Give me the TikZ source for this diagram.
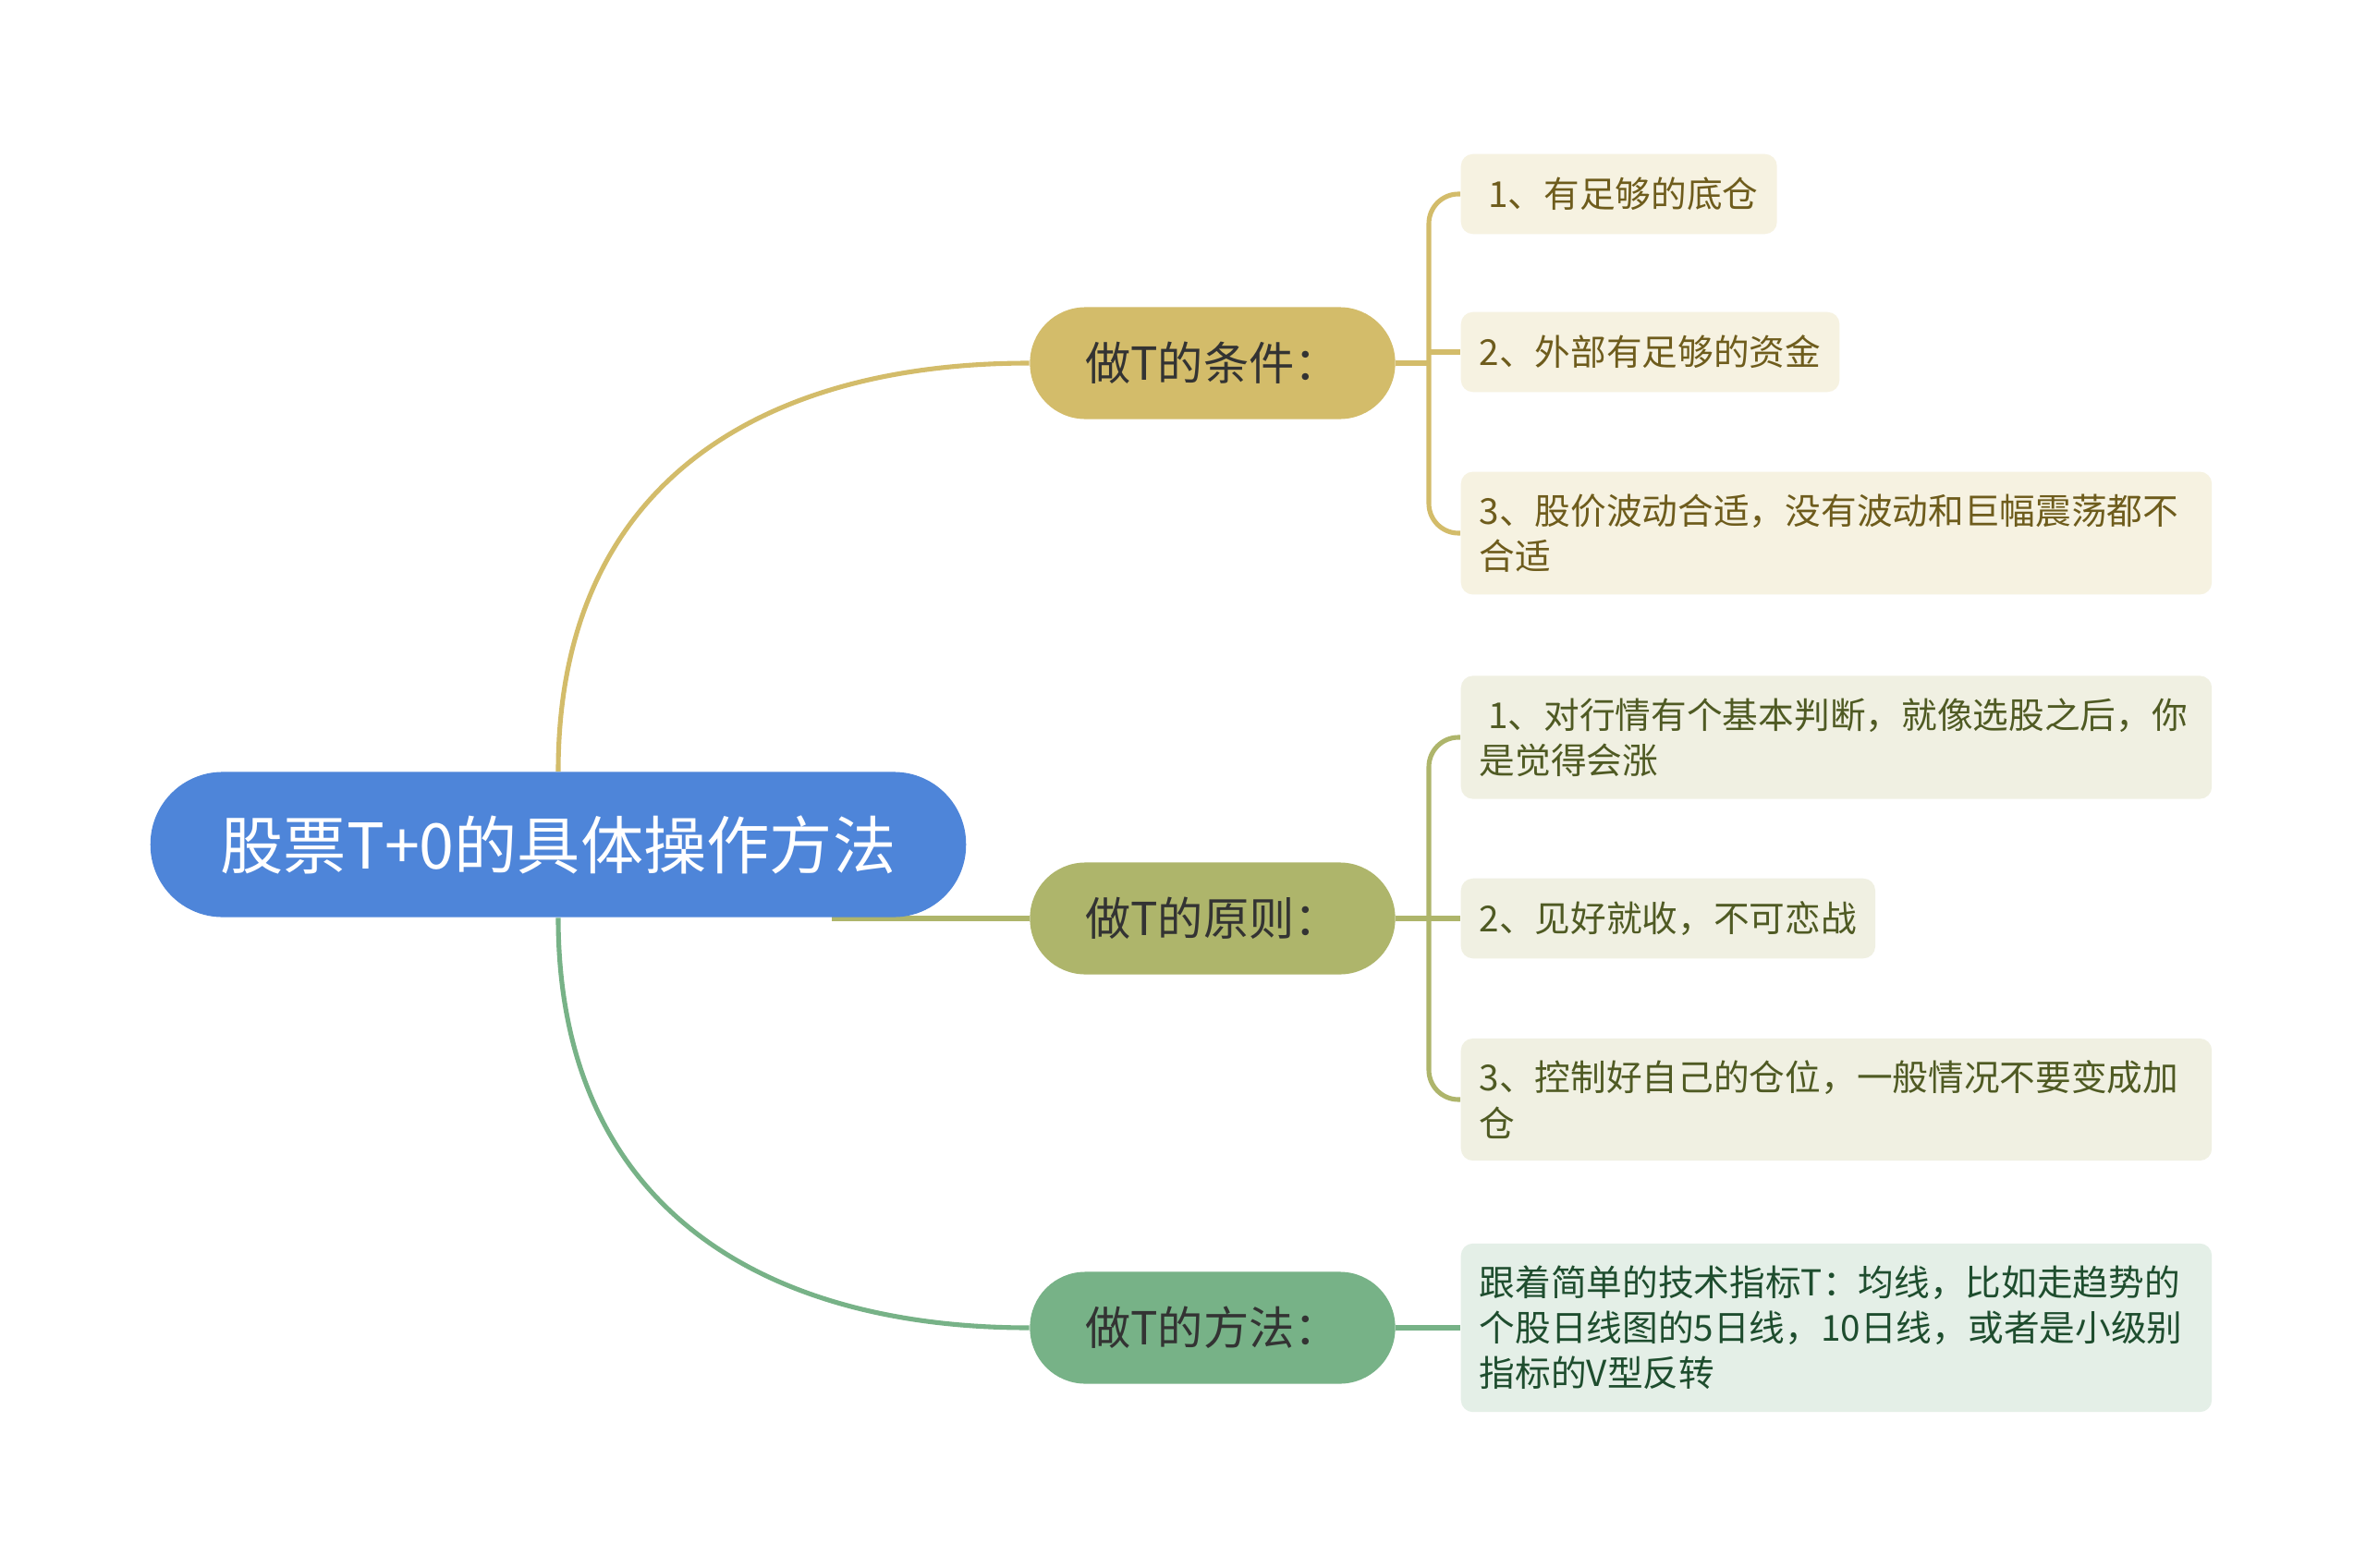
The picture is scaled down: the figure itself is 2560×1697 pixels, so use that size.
\documentclass[tikz,border=0pt]{standalone}
\usepackage{fontspec}
\setmainfont{Noto Sans CJK SC}
\usepackage{tikz}
\usetikzlibrary{backgrounds}

\definecolor{rootblue}{HTML}{4E85D9}
\definecolor{goldc}{HTML}{D3BC6A}
\definecolor{olivec}{HTML}{AEB56B}
\definecolor{sagec}{HTML}{77B287}
\definecolor{leafgold}{HTML}{F6F2E1}
\definecolor{leafolive}{HTML}{F0F0E2}
\definecolor{leafsage}{HTML}{E4EFE7}
\definecolor{txtgold}{HTML}{6E5C1C}
\definecolor{txtolive}{HTML}{4F5A23}
\definecolor{txtsage}{HTML}{1E4D2E}
\definecolor{topictext}{HTML}{333333}

\begin{document}
\begin{tikzpicture}[
  x=0.01cm, y=-0.01cm,
  rootbox/.style={
    fill=rootblue, text=white, rounded corners=0.78cm,
    minimum width=8.82cm, minimum height=1.57cm, inner sep=0pt,
    font=\fontsize{19.4}{23}\selectfont
  },
  topicbox/.style={
    rounded corners=0.6cm, text=topictext,
    minimum width=3.95cm, minimum height=1.21cm, inner sep=0pt,
    font=\fontsize{14}{16}\selectfont
  },
  leafbox/.style={
    anchor=west, rounded corners=0.13cm,
    inner xsep=0.2cm, inner ysep=0.24cm, minimum height=0.865cm,
    align=left, font=\fontsize{11}{14}\selectfont
  },
  wideleaf/.style={leafbox, text width=7.72cm},
  linkline/.style={line width=1.45pt}
]

\useasboundingbox (0,0) rectangle (2560,1697);

% ── Root ─────────────────────────────────────────────────────
\node[rootbox] (root) at (604,914) {股票T+0的具体操作方法};

% ── Topics ───────────────────────────────────────────────────
\node[topicbox, fill=goldc]  (cond) at (1312,393)  {做T的条件：};
\node[topicbox, fill=olivec] (rule) at (1312,994)  {做T的原则：};
\node[topicbox, fill=sagec]  (way)  at (1312,1437) {做T的方法：};

% ── Conditions ───────────────────────────────────────────────
\node[leafbox, fill=leafgold, text=txtgold] (c1) at (1580,210) {\hspace{0.25em}1、有足够的底仓};
\node[leafbox, fill=leafgold, text=txtgold] (c2) at (1580,381) {2、外部有足够的资金};
\node[wideleaf, fill=leafgold, text=txtgold] (c3) at (1580,577)
  {3、股价波动合适，没有波动和巨幅震荡都不\\合适};

% ── Rules ────────────────────────────────────────────────────
\node[wideleaf, fill=leafolive, text=txtolive] (r1) at (1580,798)
  {\hspace{0.25em}1、对行情有个基本判断，就像选股之后，你\\是觉得会涨};
\node[leafbox, fill=leafolive, text=txtolive] (r2) at (1580,994) {2、见好就收，不可恋战};
\node[wideleaf, fill=leafolive, text=txtolive] (r3) at (1580,1190)
  {3、控制好自己的仓位，一般情况不要变成加\\仓};

% ── Method ───────────────────────────────────────────────────
\node[wideleaf, fill=leafsage, text=txtsage] (w1) at (1580,1437)
  {跟着简单的技术指标T：均线，比如走趋势的\\个股日线图的5日线，10日线，或者是小级别\\指标的V型反转};

% ── Connectors ───────────────────────────────────────────────
\coordinate (rjoin) at (900,994);
\coordinate (ck) at (1546,393);
\coordinate (rk) at (1546,994);

\begin{scope}[on background layer]
  \fill[white] (0,0) rectangle (2560,1697);
  % root to topics
  \draw[linkline, goldc] (root.north) .. controls +(0,-316) and +(-285,0) .. (cond.west);
  \draw[linkline, olivec] (rjoin) -- (rule.west);
  \draw[linkline, sagec] (root.south) .. controls +(0,316) and +(-285,0) .. (way.west);
  % conditions bracket
  \draw[linkline, goldc] (cond.east) -- (ck);
  \draw[linkline, goldc, rounded corners=0.32cm] (c1.west) -| (ck) |- (c3.west);
  \draw[linkline, goldc] (ck |- c2.west) -- (c2.west);
  % rules bracket
  \draw[linkline, olivec] (rule.east) -- (rk);
  \draw[linkline, olivec, rounded corners=0.32cm] (r1.west) -| (rk) |- (r3.west);
  \draw[linkline, olivec] (rk |- r2.west) -- (r2.west);
  % method
  \draw[linkline, sagec] (way.east) -- (w1.west);
\end{scope}

\end{tikzpicture}
\end{document}
